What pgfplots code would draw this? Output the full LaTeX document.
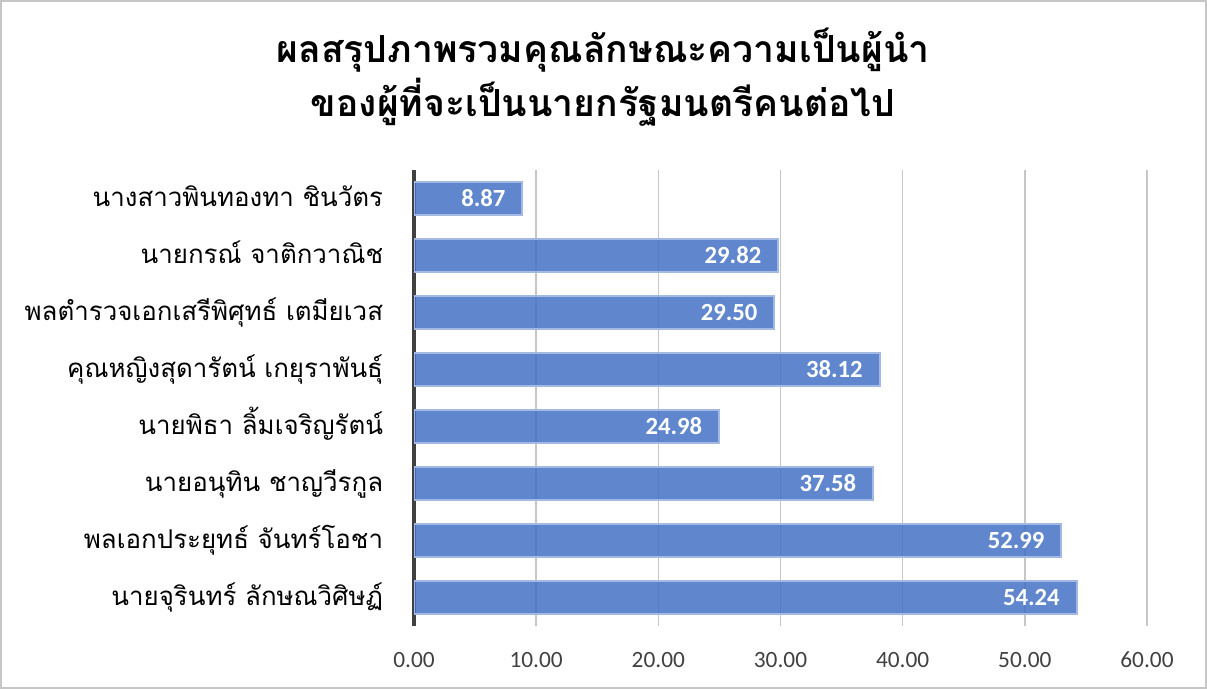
\documentclass[border=0pt]{standalone}
\usepackage{pgfplots}
\pgfplotsset{compat=1.18}
\usepackage{fontspec}
\setmainfont{Carlito}
\newfontfamily\thaifont[Script=Thai]{Loma}

\definecolor{barfill}{HTML}{4472C4}
\definecolor{barline}{HTML}{A3B8E2}
\definecolor{ticktext}{HTML}{404040}

\begin{document}
\begin{tikzpicture}
% 1 px of the reference = 0.75pt
\path[use as bounding box] (0,0) rectangle (905.25pt,516.75pt);
\draw[gray!45, line width=1.2pt] (0.6pt,0.6pt) rectangle (904.65pt,516.15pt);

\node[anchor=base, font=\thaifont\bfseries\fontsize{28}{32}\selectfont]
  at (452.25pt,469.5pt) {ผลสรุปภาพรวมคุณลักษณะความเป็นผู้นำ};
\node[anchor=base, font=\thaifont\bfseries\fontsize{28}{32}\selectfont]
  at (452.25pt,429pt) {ของผู้ที่จะเป็นนายกรัฐมนตรีคนต่อไป};

\begin{axis}[
  at={(310.5pt,47.25pt)}, anchor=south west,
  scale only axis, width=549.75pt, height=342pt,
  xbar, bar width=24.75pt,
  xmin=0, xmax=60,
  ymin=-0.5, ymax=7.5, y dir=reverse,
  xtick={0,10,...,60},
  xticklabels={0.00,10.00,20.00,30.00,40.00,50.00,60.00},
  ytick={0,...,7},
  yticklabels={นางสาวพินทองทา ชินวัตร,นายกรณ์ จาติกวาณิช,พลตำรวจเอกเสรีพิศุทธ์ เตมียเวส,คุณหญิงสุดารัตน์ เกยุราพันธุ์,นายพิธา ลิ้มเจริญรัตน์,นายอนุทิน ชาญวีรกูล,พลเอกประยุทธ์ จันทร์โอชา,นายจุรินทร์ ลักษณวิศิษฏ์},
  yticklabel style={anchor=base east, inner sep=0pt, xshift=-23pt, yshift=-6pt,
    font=\thaifont\fontsize{19.4}{23}\selectfont, text=black},
  xticklabel style={anchor=base, inner sep=0pt, yshift=-30.75pt,
    font=\fontsize{17.5}{21}\selectfont, text=ticktext},
  major tick length=0pt,
  axis x line*=bottom, axis y line*=left,
  x axis line style={draw=none},
  y axis line style={draw=ticktext, line width=3pt},
  xmajorgrids, major grid style={gray!45, line width=1.2pt},
  nodes near coords,
  nodes near coords style={anchor=east, inner sep=0pt, xshift=-12pt,
    font=\bfseries\fontsize{18.5}{22}\selectfont, text=white,
    /pgf/number format/.cd, fixed, fixed zerofill, precision=2, assume math mode=true},
]
\addplot[fill=barfill, fill opacity=0.85, draw=barline, line width=1.5pt,
  text opacity=1]
  coordinates {(8.87,0) (29.82,1) (29.50,2) (38.12,3) (24.98,4) (37.58,5) (52.99,6) (54.24,7)};
\end{axis}
\end{tikzpicture}
\end{document}
